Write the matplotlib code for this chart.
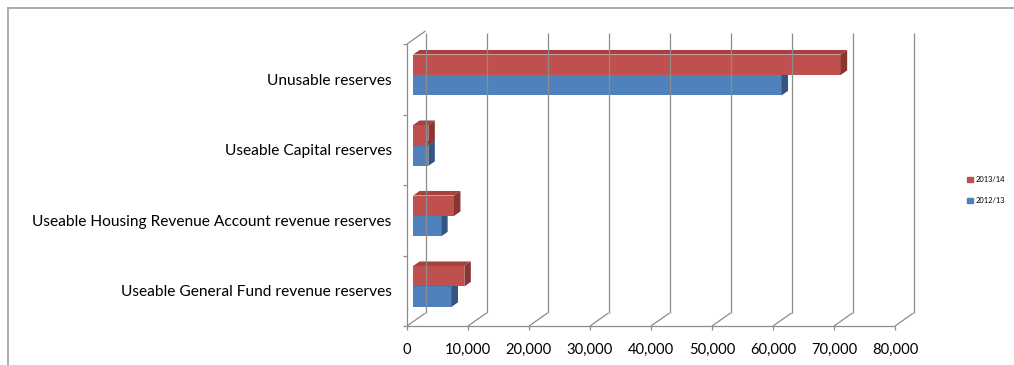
import matplotlib
matplotlib.use("Agg")
import matplotlib.pyplot as plt
from matplotlib.lines import Line2D
from matplotlib.patches import Patch

plt.rcParams['font.family'] = ['Lato', 'DejaVu Sans']

# Reserves (£000) by category, bottom to top
categories = [
    "Useable General Fund revenue reserves",
    "Useable Housing Revenue Account revenue reserves",
    "Useable Capital reserves",
    "Unusable reserves",
]
reserves_2012_13 = [6300, 4600, 2500, 60400]
reserves_2013_14 = [8400, 6700, 2500, 70100]
series_labels = ["2013/14", "2012/13"]
value_ticks = [0, 10000, 20000, 30000, 40000, 50000, 60000, 70000, 80000]
tick_labels = ["0", "10,000", "20,000", "30,000", "40,000", "50,000",
               "60,000", "70,000", "80,000"]

RED, RED_TOP, RED_SIDE = "#C0504D", "#A5423F", "#8A3533"
BLUE, BLUE_TOP, BLUE_SIDE = "#4F81BD", "#3F6A9E", "#33557F"
GRID = "#8C8C8C"

W, H = 1014, 365
fig = plt.figure(figsize=(W / 100, H / 100), dpi=100)
fig.patch.set_facecolor("white")

# outer chart frame
frame_kw = dict(color="#A6A6A6", lw=1.3, transform=fig.transFigure)
fig.add_artist(Line2D([8 / W, 1], [1 - 8 / H, 1 - 8 / H], **frame_kw))
fig.add_artist(Line2D([8 / W, 8 / W], [1 - 8 / H, 0], **frame_kw))

ax = fig.add_axes([407 / W, 39 / H, 488 / W, 282 / H])
xmax, ncat = 80000, len(categories)
ax.set_xlim(0, xmax)
ax.set_ylim(0, ncat)
for s in ax.spines.values():
    s.set_visible(False)
ax.patch.set_alpha(0)

# depth of the 3-D box expressed in data units
DX = 18.5 * xmax / 488
DY = 13 * ncat / 282

line_kw = dict(color=GRID, lw=0.9, clip_on=False, solid_capstyle="butt")
# back wall gridlines and floor diagonals
for v in value_ticks:
    ax.plot([v + DX, v + DX], [DY, ncat + DY - 0.03], **line_kw)
    ax.plot([v, v + DX], [0, DY], **line_kw)
# front floor edge and left wall
ax.plot([0, xmax], [0, 0], **line_kw)
ax.plot([0, 0], [0, ncat], **line_kw)
ax.plot([0, DX], [ncat, ncat + DY], **line_kw)

# ticks and labels
ax.set_xticks(value_ticks)
ax.set_xticklabels(tick_labels, fontsize=10.6)
ax.tick_params(axis="x", length=3, width=0.9, color=GRID, pad=9)
ax.set_yticks(range(ncat + 1))
ax.set_yticklabels([])
ax.tick_params(axis="y", which="major", length=3, width=0.9, color=GRID)
ax.set_yticks([i + 0.5 for i in range(ncat)], minor=True)
ax.set_yticklabels(categories, minor=True, fontsize=11.2)
ax.tick_params(axis="y", which="minor", length=0, pad=11)

# pseudo-3-D bars
z0, z1 = 0.33, 0.68
bh = 0.29


def bar3d(val, ybot, front, top, side):
    x0, x1 = z0 * DX, val + z0 * DX
    yb, yt = ybot + z0 * DY, ybot + bh + z0 * DY
    ddx, ddy = (z1 - z0) * DX, (z1 - z0) * DY
    kw = dict(lw=0, clip_on=False)
    ax.fill([x0, x1, x1, x0], [yb, yb, yt, yt], color=front, **kw)
    ax.fill([x0, x1, x1 + ddx, x0 + ddx], [yt, yt, yt + ddy, yt + ddy],
            color=top, **kw)
    ax.fill([x1, x1 + ddx, x1 + ddx, x1], [yb, yb + ddy, yt + ddy, yt],
            color=side, **kw)


for i in range(ncat):
    c = i + 0.5
    bar3d(reserves_2012_13[i], c - bh, BLUE, BLUE_TOP, BLUE_SIDE)
    bar3d(reserves_2013_14[i], c, RED, RED_TOP, RED_SIDE)

handles = [Patch(color=RED, label=series_labels[0]),
           Patch(color=BLUE, label=series_labels[1])]
fig.legend(handles=handles, loc="center left",
           bbox_to_anchor=(962 / W, 1 - 190 / H), frameon=False,
           fontsize=5.4, handlelength=0.75, handleheight=0.75,
           handletextpad=0.3, labelspacing=1.9, borderpad=0.2)

fig.savefig("out.png", dpi=100, facecolor="white")
